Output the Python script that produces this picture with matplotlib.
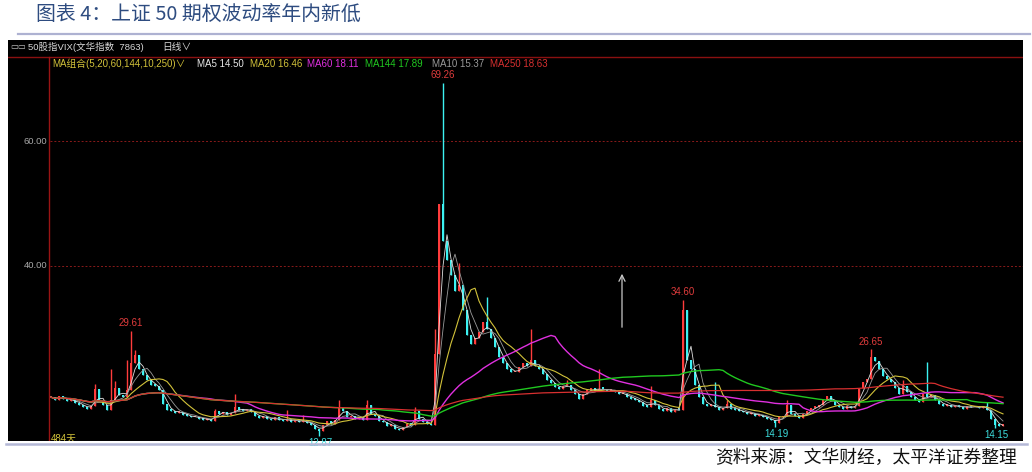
import numpy as np
import pandas as pd
import matplotlib
matplotlib.use("Agg")
import matplotlib.pyplot as plt
from matplotlib.lines import Line2D

# ---------------- data (one candle ~ 2 trading days) ----------------
closes = [
    19.0, 18.6, 19.2, 18.8, 18.4, 18.7, 18.1, 17.8, 17.5, 17.2,
    17.6, 20.3, 18.4, 17.8, 17.0, 18.5, 20.5, 19.4, 19.0, 20.2,
    24.5, 25.8, 23.6, 22.5, 21.8, 21.0, 20.8, 20.2, 18.0, 17.0,
    16.8, 16.5, 16.7, 16.2, 16.0, 15.8, 15.9, 15.6, 15.4, 15.5,
    15.2, 16.8, 16.4, 16.6, 16.2, 16.5, 17.4, 17.0, 16.8, 17.2,
    16.6, 16.0, 15.7, 16.0, 15.6, 15.3, 15.8, 15.4, 15.2, 15.6,
    15.1, 15.4, 15.0, 15.3, 14.9, 14.6, 14.0, 13.6, 14.6, 15.2,
    14.8, 15.4, 17.5, 16.8, 15.8, 16.0, 15.6, 15.9, 15.4, 17.8,
    16.4, 16.0, 15.2, 15.0, 14.4, 14.6, 13.9, 13.7, 14.2, 14.8,
    14.6, 16.8, 15.6, 15.0, 14.8, 14.5, 26.0, 50.0, 44.0, 41.0,
    38.5, 36.0, 37.0, 33.0, 29.0, 27.5, 28.5, 29.5, 31.0, 30.0,
    28.5, 27.0, 25.5, 24.5, 23.5, 23.0, 23.0, 23.8, 24.5, 24.0,
    25.0, 24.0, 23.6, 22.8, 21.8, 21.3, 20.6, 20.4, 20.8, 21.0,
    20.2, 19.5, 18.8, 19.6, 20.2, 20.5, 20.0, 20.4, 20.3, 20.0,
    20.2, 19.8, 19.5, 19.6, 19.0, 18.8, 18.6, 18.2, 17.6, 17.5,
    18.5, 17.8, 17.2, 16.8, 17.3, 16.6, 17.2, 17.0, 33.0, 25.0,
    23.5, 21.0, 19.0, 18.0, 17.6, 17.8, 17.4, 17.0, 17.3, 17.9,
    17.2, 17.0, 16.8, 16.6, 16.3, 16.5, 16.0, 16.2, 15.8, 15.6,
    15.3, 14.9, 15.8, 16.0, 17.8, 16.4, 16.0, 15.7, 16.3, 16.8,
    17.3, 17.5, 17.8, 18.6, 19.2, 18.6, 17.8, 17.4, 17.2, 17.6,
    17.3, 17.6, 20.5, 21.5, 22.0, 25.5, 24.8, 23.5, 22.4, 22.0,
    21.4, 20.5, 19.6, 20.8, 19.8, 19.0, 18.6, 18.2, 19.5, 19.0,
    19.3, 18.6, 18.0, 17.6, 17.8, 17.4, 17.7, 17.5, 17.2, 17.6,
    17.4, 17.5, 17.3, 17.6, 17.0, 15.5, 14.6, 14.4, 14.5,
]
# intraday highs that stick out above the body (candle index -> high)
high_spikes = {11: 21.2, 15: 23.6, 16: 21.6, 19: 25.0, 20: 29.61, 21: 26.5,
               41: 17.2, 46: 19.6, 59: 17.0, 63: 16.2, 72: 18.6, 79: 18.6,
               91: 17.4, 96: 30.0, 98: 69.26, 102: 40.5, 109: 35.0, 120: 30.0,
               129: 21.8, 137: 23.5, 150: 20.8, 158: 34.6, 166: 21.4, 169: 18.5,
               184: 18.6, 205: 26.65, 213: 21.8, 219: 24.6, 234: 18.2}
low_marks = {67: 12.87, 181: 14.19, 236: 14.15}

high_labels = {98: "69.26", 158: "34.60", 20: "29.61", 205: "26.65"}
low_labels = {67: "12.87", 181: "14.19", 236: "14.15"}

y_ticks = [60, 40]
y_tick_labels = ["60.00", "40.00"]

ma_names = ["MA5", "MA10", "MA20", "MA60", "MA144", "MA250"]
ma_windows = [3, 5, 10, 30, 72, 125]          # windows in 2-day candles
ma_colors = ["#e0e0e0", "#9a9a9a", "#d2c23a", "#e030e0", "#20c820", "#d83030"]
ma_widths = [0.6, 0.6, 0.8, 1.0, 1.0, 0.9]

legend_texts = ["MA5 14.50", "MA20 16.46", "MA60 18.11", "MA144 17.89", "MA10 15.37", "MA250 18.63"]
legend_colors = ["#e8e8e8", "#d2c23a", "#e030e0", "#20c820", "#9a9a9a", "#d83030"]
legend_x = [197, 250, 307, 365, 432, 490]

title = "图表 4：上证 50 期权波动率年内新低"
source = "资料来源：文华财经，太平洋证券整理"
header1 = "50股指VIX(文华指数  7863)"
header_period = "日线∨"
header_ma = "MA组合(5,20,60,144,10,250)∨"
days_label = "484天"

# ---------------- layout helpers ----------------
W, H = 1032, 472
UP = "#ff3c3c"
DOWN = "#3cf2f2"
FONT = ["Liberation Sans", "Noto Sans CJK SC", "DejaVu Sans"]
plt.rcParams["font.family"] = FONT

fig = plt.figure(figsize=(W / 100, H / 100), dpi=100, facecolor="white")

def fx(p):
    return p / W

def fy(p):
    return 1 - p / H

def px2x(p):
    return (p - 51) / 4.0

def px2v(p):
    return 60 - (p - 141) / 6.25

ax = fig.add_axes([fx(8), (H - 441) / H, 1015 / W, 401 / H])
ax.set_facecolor("black")
ax.set_xlim(px2x(8), px2x(1023))
ax.set_ylim(px2v(441), px2v(40))
ax.set_xticks([])
ax.set_yticks([])
for sp in ax.spines.values():
    sp.set_visible(False)

# axis frame lines (dark red)
ax.plot([px2x(8), px2x(1023)], [px2v(57), px2v(57)], color="#8a1010", lw=1.0)
ax.plot([px2x(49), px2x(49)], [px2v(441), px2v(57)], color="#9a1414", lw=1.0)
for t, lab in zip(y_ticks, y_tick_labels):
    ax.plot([px2x(50), px2x(1023)], [t, t], color="#8a1a1a", lw=0.7, ls=(0, (2, 2)))
    ax.text(px2x(47), t, lab, ha="right", va="center", color="#a8a8a8", fontsize=6.8)

# ---------------- candles ----------------
n = len(closes)
xs = np.arange(n)
opens = [closes[0]] + closes[:-1]
for i in range(n):
    o, c = opens[i], closes[i]
    h = max(o, c, high_spikes.get(i, -1e9))
    l = min(o, c, low_marks.get(i, 1e9))
    col = UP if c >= o else DOWN
    ax.vlines(i, l, h, color=col, lw=1.0, zorder=3)
    ax.bar(i, max(abs(c - o), 0.28), bottom=min(o, c), width=0.6, color=col,
           linewidth=0, zorder=3)

# ---------------- moving averages ----------------
s = pd.Series(closes, dtype=float)
for name, w, col, lw in zip(ma_names, ma_windows, ma_colors, ma_widths):
    ax.plot(xs, s.rolling(w, min_periods=1).mean(), color=col, lw=lw, zorder=4)

# ---------------- extreme labels ----------------
for i, lab in high_labels.items():
    hv = high_spikes.get(i, closes[i])
    ax.annotate(lab, (i, hv), xytext=(0, 2), textcoords="offset points",
                ha="center", va="bottom", color="#e03c3c", fontsize=7, zorder=5)
for i, lab in low_labels.items():
    ax.annotate(lab, (i, low_marks[i]), xytext=(1, -1.5), textcoords="offset points",
                ha="center", va="top", color="#3cdede", fontsize=7, zorder=5,
                annotation_clip=False).set_clip_on(True)
ax.text(px2x(51), px2v(439), days_label, ha="left", va="center", color="#d2c23a",
        fontsize=7, clip_on=True)

# arrow
ax.annotate("", xy=(px2x(622), px2v(271)), xytext=(px2x(622), px2v(330)),
            arrowprops=dict(arrowstyle="->", color="#c8c8c8", lw=0.9, mutation_scale=11))

# ---------------- header rows ----------------
fig.text(fx(10), fy(47), "▭▭", color="#c8c8c8", fontsize=6, va="center", ha="left",
         family=["DejaVu Sans"])
fig.text(fx(28), fy(47), header1, color="#d8d8d8", fontsize=6.8, va="center", ha="left")
fig.text(fx(162), fy(47), header_period, color="#d8d8d8", fontsize=7, va="center", ha="left")
fig.text(fx(52), fy(64), header_ma, color="#d2c23a", fontsize=7, va="center", ha="left")
for t, c, xp in zip(legend_texts, legend_colors, legend_x):
    fig.text(fx(xp), fy(64), t, color=c, fontsize=7, va="center", ha="left")

# ---------------- title, separators, source ----------------
fig.text(fx(36), fy(15), title, color="#2e4c80", fontsize=14.3, va="center", ha="left",
         family=["Noto Sans CJK SC", "DejaVu Sans"])
fig.add_artist(Line2D([fx(18), fx(1030)], [fy(34), fy(34)], color="#aeb2d2", lw=1.6))
fig.add_artist(Line2D([fx(6), fx(1027)], [fy(444), fy(444)], color="#b4b8d6", lw=1.8))
fig.text(fx(1017), fy(458), source, color="#111111", fontsize=12.8, va="center", ha="right",
         family=["Noto Sans CJK SC", "DejaVu Sans"])

fig.savefig("out.png", dpi=100, facecolor="white")
